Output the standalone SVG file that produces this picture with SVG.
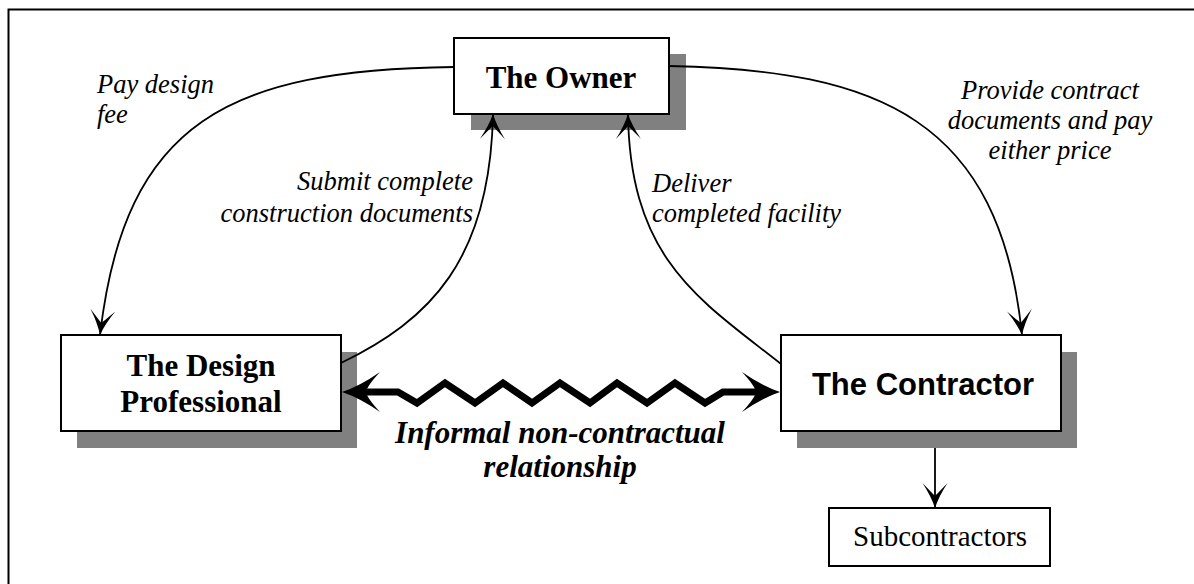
<svg xmlns="http://www.w3.org/2000/svg" width="1194" height="584" viewBox="0 0 1194 584">
  <style>
    .box { fill: #fff; stroke: #000; stroke-width: 2; }
    .shadow { fill: #808080; }
    .serif { font-family: "Liberation Serif", "Times New Roman", serif; }
    .title { font-size: 31px; font-weight: bold; text-anchor: middle; }
    .sans { font-family: "Liberation Sans", Arial, sans-serif; }
    .label { font-family: "Liberation Serif", "Times New Roman", serif; font-size: 26.5px; font-style: italic; }
    .flow { fill: none; stroke: #000; stroke-width: 1.8; marker-end: url(#head); }
    .zig { fill: none; stroke: #000; stroke-width: 7; stroke-linejoin: miter; }
  </style>
  <defs>
    <marker id="head" viewBox="-26 -13 27 26" refX="0" refY="0" markerWidth="27" markerHeight="26" markerUnits="userSpaceOnUse" orient="auto">
      <path d="M0,0 Q-12,-4 -25,-12.5 Q-15,-3 -12,0 Q-15,3 -25,12.5 Q-12,4 0,0 Z" fill="#000"/>
    </marker>
    <path id="bighead" d="M0,0 Q-18,-6 -38,-20 Q-25,-6 -24,0 Q-25,6 -38,20 Q-18,6 0,0 Z" fill="#000"/>
  </defs>

  <!-- frame -->
  <path d="M8.5,584 V9.5 H1194" fill="none" stroke="#000" stroke-width="2"/>

  <g id="owner">
    <rect class="shadow" x="471" y="54" width="215" height="76"/>
    <rect class="box" x="454" y="38" width="215" height="76"/>
    <text class="serif title" x="561" y="88">The Owner</text>
  </g>

  <g id="design-professional">
    <rect class="shadow" x="77" y="352" width="280" height="96"/>
    <rect class="box" x="61" y="335" width="280" height="96"/>
    <text class="serif title" x="201" y="376">The Design</text>
    <text class="serif title" x="201" y="412">Professional</text>
  </g>

  <g id="contractor">
    <rect class="shadow" x="797" y="352" width="280" height="96"/>
    <rect class="box" x="781" y="335" width="280" height="96"/>
    <text class="sans title" x="923" y="395">The Contractor</text>
  </g>

  <g id="subcontractors">
    <rect class="box" x="829" y="508" width="221" height="58"/>
    <text class="serif" x="940" y="546" font-size="29" text-anchor="middle">Subcontractors</text>
  </g>

  <g id="connectors">
    <!-- owner pays the designer -->
    <path class="flow" d="M454,67 C230,70 125,120 100,335"/>
    <!-- designer hands documents to owner -->
    <path class="flow" d="M341,363 C430,320 490,260 493,114"/>
    <!-- contractor delivers the facility -->
    <path class="flow" d="M781,364 C700,300 630,260 628,114"/>
    <!-- owner provides documents and pays contractor -->
    <path class="flow" d="M669,66 C880,70 1000,120 1022,335"/>
    <!-- contractor to subcontractors -->
    <path class="flow" d="M935,448 V508"/>

    <!-- informal link between designer and contractor -->
    <polyline class="zig" points="366,392 398,392 417,403 445,383 475,403 503,383 532,403 560,383 590,403 617,383 647,403 675,383 705,403 723,392 756,392"/>
    <use href="#bighead" transform="translate(342,392) rotate(180)"/>
    <use href="#bighead" transform="translate(780,392)"/>
  </g>

  <g id="labels">
    <text class="label" x="97" y="93">Pay design</text>
    <text class="label" x="97" y="123">fee</text>
    <text class="label" x="473" y="190" text-anchor="end">Submit complete</text>
    <text class="label" x="473" y="222" text-anchor="end">construction documents</text>
    <text class="label" x="652" y="192">Deliver</text>
    <text class="label" x="652" y="222">completed facility</text>
    <text class="label" x="1050" y="99" text-anchor="middle">Provide contract</text>
    <text class="label" x="1050" y="129" text-anchor="middle">documents and pay</text>
    <text class="label" x="1050" y="159" text-anchor="middle">either price</text>
    <text class="serif" x="560" y="443" font-size="31" font-weight="bold" font-style="italic" text-anchor="middle">Informal non-contractual</text>
    <text class="serif" x="560" y="477" font-size="31" font-weight="bold" font-style="italic" text-anchor="middle">relationship</text>
  </g>
</svg>
